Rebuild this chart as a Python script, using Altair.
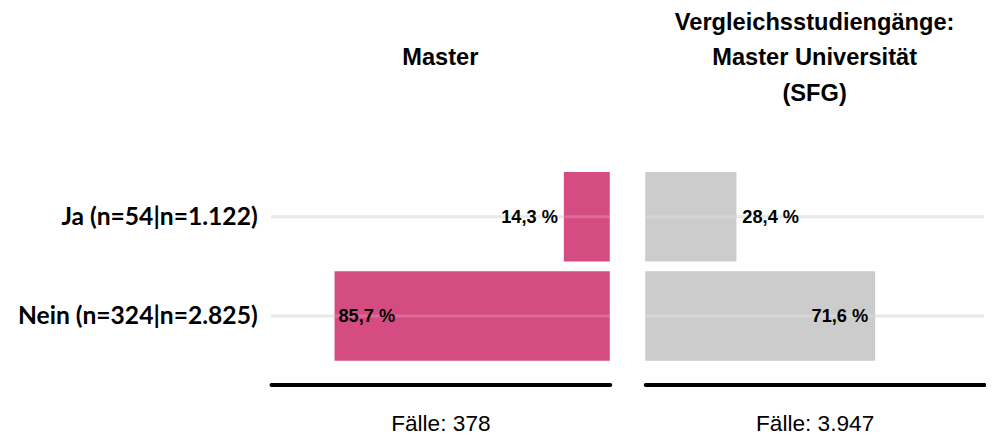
import altair as alt
import pandas as pd

categories = ["Ja (n=54|n=1.122)", "Nein (n=324|n=2.825)"]
master_values = [14.3, 85.7]
sfg_values = [28.4, 71.6]
title_master = ["Master", ""]
title_sfg = ["Vergleichsstudiengänge:", "Master Universität", "(SFG)"]
case_master = "Fälle: 378"
case_sfg = "Fälle: 3.947"
color_master = "#d44c82"
color_sfg = "#cccccc"

W = 344
H = 240


def fmt(v):
    return f"{v:.1f}".replace(".", ",") + " %"


def panel(values, title, case_label, color, reverse, show_y):
    df = pd.DataFrame({
        "cat": categories,
        "val": values,
        "lab": [fmt(v) for v in values],
        "inside": [v > 50 for v in values],
    })
    base = alt.Chart(df)
    ysc = alt.Scale(domain=categories, paddingInner=0.1, paddingOuter=0.24)
    if show_y:
        yaxis = alt.Axis(title=None, ticks=False, domain=False, grid=False,
                         labelFont="Lato", labelFontWeight="bold", labelFontSize=25,
                         labelColor="black", labelPadding=14, labelLimit=400,
                         minExtent=255, maxExtent=255)
    else:
        yaxis = None
    yenc = alt.Y("cat:N", scale=ysc, axis=yaxis, sort=categories)
    xsc = alt.Scale(domain=[0, 105.5], reverse=reverse, nice=False, zero=True)
    xaxis = alt.Axis(title=case_label, labels=False, ticks=False, grid=False,
                     domainColor="black", domainWidth=4, domainCap="round",
                     titleFontSize=23, titleFontWeight="normal",
                     titleFont="Liberation Sans", titleColor="black", titlePadding=29)
    xenc = alt.X("val:Q", scale=xsc, axis=xaxis)

    grid = base.mark_rule(color="#e4e4e4", strokeWidth=3).encode(
        x=alt.value(0), x2=alt.value(W), y=yenc)
    bars = base.mark_bar(color=color).encode(x=xenc, y=yenc)
    overlay = base.mark_rule(color="white", opacity=0.18, strokeWidth=3).encode(
        x=alt.value(0), x2=alt.value(W), y=yenc)
    if reverse:
        out_align, out_dx, in_align, in_dx = "right", -6, "left", 4
    else:
        out_align, out_dx, in_align, in_dx = "left", 6, "right", -7
    tstyle = dict(font="Liberation Sans", fontWeight="bold", fontSize=18.5,
                  color="black", baseline="middle")
    txt_out = base.transform_filter("!datum.inside").mark_text(
        align=out_align, dx=out_dx, **tstyle).encode(x=xenc, y=yenc, text="lab:N")
    txt_in = base.transform_filter("datum.inside").mark_text(
        align=in_align, dx=in_dx, **tstyle).encode(x=xenc, y=yenc, text="lab:N")

    return alt.layer(grid, bars, overlay, txt_out, txt_in).properties(
        width=W, height=H,
        title=alt.TitleParams(text=title, font="Liberation Sans", fontSize=24,
                              fontWeight="bold", lineHeight=36, anchor="middle",
                              color="black", offset=43),
    )


left = panel(master_values, title_master, case_master, color_master, True, True)
right = panel(sfg_values, title_sfg, case_sfg, color_sfg, False, False)

chart = alt.hconcat(left, right, spacing=32).properties(
    padding={"left": 9, "right": 0, "top": 0, "bottom": 0},
    background="white",
).configure_view(stroke=None)

chart.save("out.html", embed_options={"renderer": "svg", "actions": False})
